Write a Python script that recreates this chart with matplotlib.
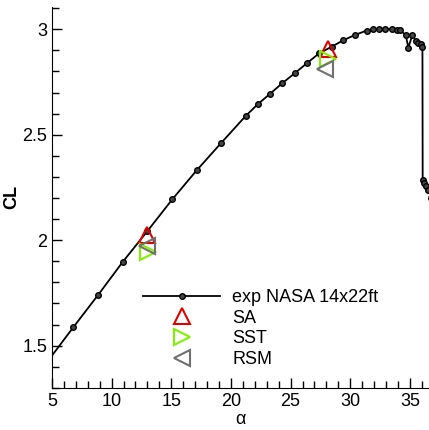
import matplotlib
matplotlib.use("Agg")
import matplotlib.pyplot as plt
from matplotlib.ticker import MultipleLocator, FormatStrFormatter

plt.rcParams["font.family"] = ["Liberation Sans", "DejaVu Sans"]

# experiment (NASA 14x22ft)
exp_alpha = [4.7, 6.79, 8.88, 10.92, 13.0, 15.08, 17.13, 19.17, 21.24, 22.24,
             23.30, 24.30, 25.34, 26.37, 27.40, 28.47, 29.42, 30.40, 31.38,
             31.90, 32.41, 32.91, 33.47, 33.89, 34.17, 34.65, 34.87, 35.20,
             35.50, 35.70, 35.90, 36.05, 36.07, 36.20, 36.35, 36.50, 36.80]
exp_cl = [1.43, 1.587, 1.741, 1.896, 2.043, 2.193, 2.331, 2.460, 2.589, 2.644,
          2.695, 2.744, 2.791, 2.839, 2.886, 2.918, 2.948, 2.973, 2.994,
          2.999, 3.000, 3.003, 3.000, 2.997, 2.997, 2.972, 2.913, 2.972,
          2.944, 2.937, 2.929, 2.916, 2.283, 2.270, 2.255, 2.240, 2.20]

# CFD results
sa_alpha = [12.96, 28.11]
sa_cl = [2.026, 2.908]
sst_alpha = [13.07, 28.11]
sst_cl = [1.943, 2.861]
rsm_alpha = [12.94, 27.90]
rsm_cl = [1.972, 2.813]

fig = plt.figure(figsize=(4.29, 4.30), dpi=100)
ax = fig.add_axes([0.121, 0.098, 0.879, 0.886])

ax.plot(exp_alpha, exp_cl, "-o", color="black", lw=1.3, ms=4,
        mfc="#444444", mec="black", mew=1.0, label="exp NASA 14x22ft")
ax.plot(sa_alpha, sa_cl, "^", ls="none", ms=11, mfc="none", mec="#e00000",
        mew=1.5, label="SA")
ax.plot(sst_alpha, sst_cl, ">", ls="none", ms=11, mfc="none", mec="#80f000",
        mew=1.5, label="SST")
ax.plot(rsm_alpha, rsm_cl, "<", ls="none", ms=11, mfc="none", mec="#707070",
        mew=1.5, label="RSM")

ax.set_xlim(5, 36.6)
ax.set_ylim(1.30, 3.106)
ax.xaxis.set_major_locator(MultipleLocator(5))
ax.xaxis.set_minor_locator(MultipleLocator(1))
ax.yaxis.set_major_locator(MultipleLocator(0.5))
ax.yaxis.set_minor_locator(MultipleLocator(0.1))
ax.yaxis.set_major_formatter(FormatStrFormatter("%g"))
ax.tick_params(which="both", direction="in", labelsize=13)
ax.tick_params(which="major", length=7, width=1)
ax.tick_params(which="minor", length=5, width=1)
ax.spines["top"].set_visible(False)
ax.spines["right"].set_visible(False)

ax.set_xlabel("α", fontsize=13, labelpad=1)
ax.set_ylabel("CL", fontsize=13, fontweight="bold")
ax.yaxis.set_label_coords(-0.085, 0.5)

ax.legend(loc="upper left", bbox_to_anchor=(0.217, 0.283), frameon=False,
          fontsize=13, handlelength=4.3, handletextpad=0.65,
          labelspacing=0.2, borderpad=0)

fig.savefig("out.png", dpi=100)
